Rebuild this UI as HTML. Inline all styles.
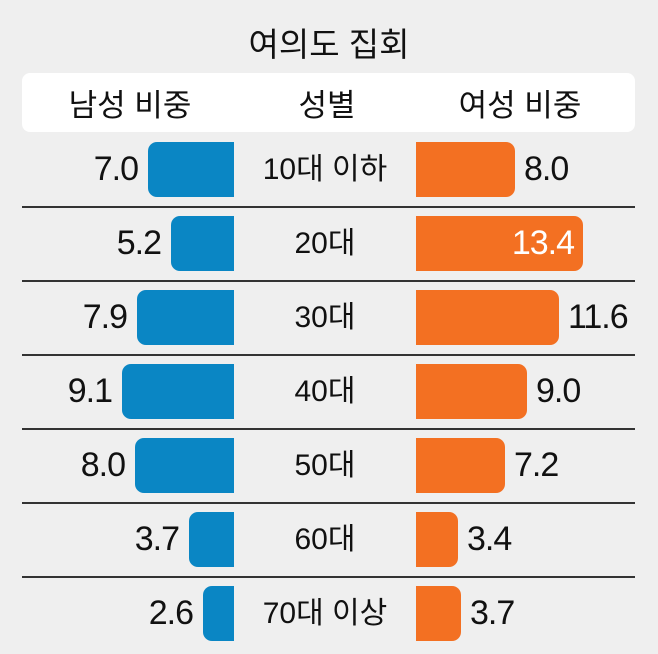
<!DOCTYPE html>
<html><head><meta charset="utf-8"><style>
body{margin:0;width:658px;height:654px;background:#efefef;position:relative;overflow:hidden;font-family:"Liberation Sans","Noto Sans CJK KR",sans-serif;color:#111}
.a{position:absolute}
.t{left:0;width:658px;top:18px;text-align:center;font-size:33px;font-weight:400}
.hd{left:22px;top:73px;width:613px;height:59px;background:#fff;border-radius:8px}
.h{top:80px;font-size:31px;text-align:center;width:200px}
.sep{left:22px;width:613px;height:2px;background:#333}
.b{height:55px;background:#0a86c4;border-radius:9px 0 0 9px}
.o{height:55px;background:#f37022;border-radius:0 9px 9px 0;left:416px}
.n{font-size:34px;line-height:55px;letter-spacing:-1px}
.l{left:225px;width:200px;text-align:center;font-size:30px;line-height:55px}
</style></head><body>
<div class="a t">여의도 집회</div>
<div class="a hd"></div>
<div class="a h" style="left:30px">남성 비중</div>
<div class="a h" style="left:227px">성별</div>
<div class="a h" style="left:420px">여성 비중</div>
<script>
var d=[[7.0,8.0,"10대 이하"],[5.2,13.4,"20대"],[7.9,11.6,"30대"],[9.1,9.0,"40대"],[8.0,7.2,"50대"],[3.7,3.4,"60대"],[2.6,3.7,"70대 이상"]];
var bw=[86,63,97,112,99,45,31],ow=[99,167,143,111,89,42,45],h="";
d.forEach(function(r,i){var y=142+74*i;
h+='<div class="a b" style="top:'+y+'px;left:'+(234-bw[i])+'px;width:'+bw[i]+'px"></div>';
h+='<div class="a n" style="top:'+y+'px;right:'+(658-234+bw[i]+10)+'px">'+r[0].toFixed(1)+'</div>';
h+='<div class="a l" style="top:'+y+'px">'+r[2]+'</div>';
h+='<div class="a o" style="top:'+y+'px;width:'+ow[i]+'px"></div>';
if(i==1)h+='<div class="a n" style="top:'+y+'px;right:'+(658-574)+'px;color:#fff">13.4</div>';
else h+='<div class="a n" style="top:'+y+'px;left:'+(416+ow[i]+9)+'px">'+r[1].toFixed(1)+'</div>';
if(i<6)h+='<div class="a sep" style="top:'+(206+74*i)+'px"></div>';});
document.write(h);
</script>
</body></html>
